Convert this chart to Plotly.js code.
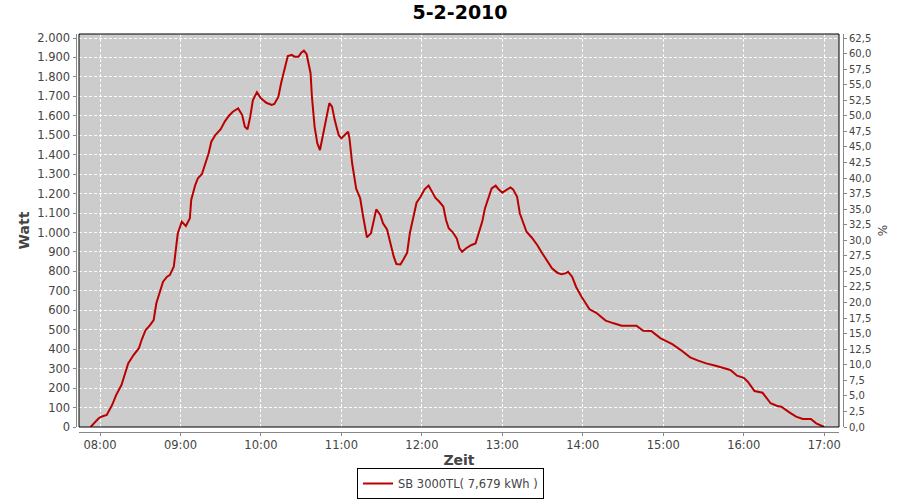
<!DOCTYPE html>
<html>
<head>
<meta charset="utf-8">
<script src="https://cdn.plot.ly/plotly-3.0.1.min.js"></script>
<style>html,body{margin:0;padding:0;background:#fff;}#chart{width:900px;height:500px;}</style>
</head>
<body>
<div id="chart"></div>
<script>
const chartTitle = "5-2-2010";
const dateStr = "2010-02-05";
const seriesName = "SB 3000TL( 7,679 kWh )";
const times = [
"07:53","07:59","08:01","08:05","08:09","08:12","08:16","08:19","08:21","08:25",
"08:29","08:31","08:34","08:37","08:40","08:42","08:45","08:47","08:50","08:52",
"08:55","08:56","08:58","09:01","09:04","09:07","09:08","09:11","09:13","09:16",
"09:18","09:21","09:23","09:26","09:30","09:33","09:36","09:39","09:43","09:46",
"09:48","09:50","09:52","09:54","09:57","10:00","10:04","10:08","10:10","10:13",
"10:15","10:18","10:20","10:23","10:25","10:28","10:30","10:32","10:34","10:37",
"10:38","10:40","10:42","10:44","10:46","10:49","10:51","10:53","10:55","10:58",
"11:00","11:03","11:05","11:06","11:08","11:11","11:14","11:16","11:19","11:22",
"11:24","11:26","11:29","11:31","11:34","11:36","11:39","11:41","11:44","11:46",
"11:49","11:51","11:54","11:56","11:59","12:02","12:05","12:07","12:10","12:13",
"12:16","12:18","12:20","12:23","12:26","12:28","12:30","12:33","12:37","12:40",
"12:42","12:45","12:47","12:50","12:52","12:55","12:57","13:00","13:03","13:06",
"13:08","13:11","13:13","13:16","13:18","13:22","13:26","13:29","13:33","13:37",
"13:41","13:44","13:47","13:49","13:52","13:55","13:59","14:02","14:05","14:10",
"14:17","14:23","14:29","14:40","14:45","14:51","14:58","15:03","15:07","15:14",
"15:20","15:26","15:32","15:39","15:45","15:50","15:55","16:00","16:03","16:08",
"16:14","16:20","16:25","16:28","16:34","16:39","16:44","16:50","16:54","16:58",
"17:00"
];
const watt = [
0,45,53,62,113,164,216,276,327,370,
405,447,499,521,550,636,704,747,773,781,
824,876,996,1056,1033,1073,1167,1244,1279,1301,
1347,1407,1467,1501,1531,1570,1599,1621,1638,1604,
1544,1531,1595,1681,1721,1690,1667,1656,1661,1698,
1767,1861,1907,1913,1904,1904,1925,1935,1918,1819,
1698,1544,1459,1424,1493,1595,1665,1647,1578,1500,
1484,1505,1518,1484,1356,1225,1176,1090,975,996,
1064,1119,1090,1047,1016,953,876,838,836,859,
896,996,1099,1153,1184,1222,1241,1219,1179,1158,
1133,1064,1022,1001,970,919,901,919,936,944,
987,1056,1124,1193,1227,1241,1224,1205,1219,1232,
1222,1184,1099,1047,1004,973,936,901,859,816,
793,785,790,798,773,720,670,640,605,587,
547,533,521,521,495,494,456,439,425,391,
358,341,327,315,305,293,264,253,233,185,
176,122,108,104,75,53,41,41,19,5,
0
];
const xRange = ["07:44:20","17:11:00"];
const yMax = 2020.6;
const pctFactor = 32; // 100 % = 3200 W

const xs = times.map(t => dateStr + " " + t);
const tickFont = {family: "DejaVu Sans", size: 11.5, color: "#444444"};
const titleFont = {family: "DejaVu Sans", size: 14, color: "#444444", weight: "bold"};

const traces = [
  {x: xs, y: watt, type: "scatter", mode: "lines", name: seriesName,
   line: {color: "#bb0000", width: 2}, xaxis: "x", yaxis: "y"},
  {x: [xs[0]], y: [0], type: "scatter", mode: "lines", showlegend: false,
   hoverinfo: "skip", opacity: 0, xaxis: "x", yaxis: "y2"}
];

const layout = {
  width: 900, height: 500,
  margin: {l: 70, r: 50, t: 30, b: 65, autoexpand: false},
  paper_bgcolor: "#ffffff",
  plot_bgcolor: "#cccccc",
  separators: ",.",
  showlegend: true,
  title: {text: chartTitle, font: {family: "DejaVu Sans", size: 19, color: "#000000", weight: "bold"},
          x: 0.5, xanchor: "center", xref: "paper", y: 0.976, yref: "container", yanchor: "middle"},
  xaxis: {
    type: "date", range: [dateStr + " " + xRange[0], dateStr + " " + xRange[1]],
    domain: [9/780, 769/780], anchor: "free", position: 3.5/405,
    tickformat: "%H:%M", dtick: 3600000, tick0: dateStr + " 08:00",
    showgrid: true, gridcolor: "#ffffff", gridwidth: 1, griddash: "3px,2px",
    zeroline: false, showline: true, linecolor: "#888888", linewidth: 1,
    ticks: "outside", ticklen: 3, tickcolor: "#888888",
    tickfont: tickFont, automargin: false,
    title: {text: "Zeit", font: titleFont, standoff: 3}
  },
  yaxis: {
    range: [0, yMax], domain: [8/405, 401/405],
    anchor: "free", position: 5.5/780,
    dtick: 100, tick0: 0, tickformat: ",.0f",
    showgrid: true, gridcolor: "#ffffff", gridwidth: 1, griddash: "3px,2px",
    zeroline: false, showline: true, linecolor: "#888888", linewidth: 1,
    ticks: "outside", ticklen: 3, tickcolor: "#888888",
    tickfont: tickFont, automargin: false,
    title: {text: "Watt", font: titleFont, standoff: 3}
  },
  yaxis2: {
    range: [0, yMax / pctFactor], overlaying: "y", side: "right",
    anchor: "free", position: 773/780,
    dtick: 2.5, tick0: 0, tickformat: ".1f",
    showgrid: false, zeroline: false, showline: true, linecolor: "#888888", linewidth: 1,
    ticks: "outside", ticklen: 3, tickcolor: "#888888",
    tickfont: {family: "DejaVu Sans", size: 10, color: "#444444"}, automargin: false,
    title: {text: "%", font: {family: "DejaVu Sans", size: 12, color: "#444444"}, standoff: 8}
  },
  legend: {
    orientation: "h", x: (450.5 - 70) / 780, xanchor: "center",
    y: (435 - 499) / 405, yanchor: "bottom", itemwidth: 30,
    bordercolor: "#000000", borderwidth: 1, bgcolor: "#ffffff",
    font: {family: "DejaVu Sans", size: 11.5, color: "#444444"}
  },
  shapes: [
    {type: "rect", xref: "paper", yref: "paper", x0: 9/780, x1: 769/780, y0: 8/405, y1: 401/405,
     line: {color: "#000000", width: 1}, fillcolor: "rgba(0,0,0,0)", layer: "above"}
  ]
};

Plotly.newPlot("chart", traces, layout, {staticPlot: true, displayModeBar: false});
</script>
</body>
</html>
